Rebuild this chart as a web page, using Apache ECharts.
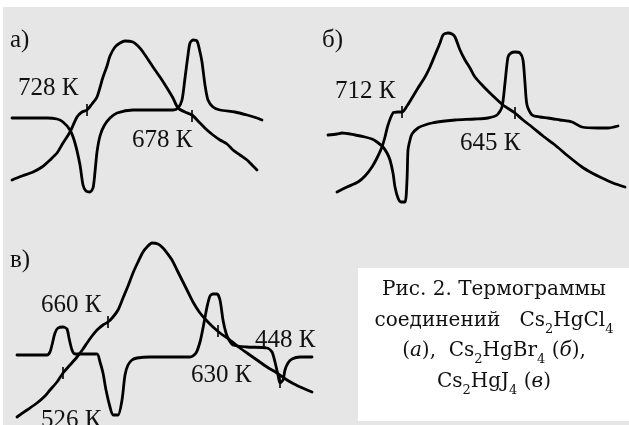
<!DOCTYPE html>
<html><head><meta charset="utf-8">
<script src="https://cdn.jsdelivr.net/npm/echarts@6/dist/echarts.min.js"></script>
<style>html,body{margin:0;padding:0;background:#fff}#c{width:629px;height:425px}</style>
</head><body><div id="c"></div>
<script>
// Panel а) Cs2HgCl4 — DTA curve and heating curve (panel-local units)
const aDTA = [[12,118],[47,118],[57,119],[63,122],[70,130],[75,143],[80,165],[83,185],[86,191],[90,192],[93,188],[95,172],[97,152],[100,136],[104,126],[110,118],[117,113],[133,110],[173,110],[178,108],[182,100],[185,78],[188,55],[190,43],[193,40],[197,41],[200,52],[202,62],[205,85],[208,100],[213,107],[220,110],[235,112],[247,115],[257,118],[262,120]];
const aHeat = [[12,180],[22,176],[33,172],[42,167],[50,160],[57,153],[63,143],[70,132],[77,117],[82,112],[87,110],[92,104],[97,97],[103,77],[107,66],[110,56],[115,47],[120,43],[125,41],[133,42],[138,46],[143,52],[153,67],[160,77],[167,88],[173,98],[178,108],[185,112],[192,115],[200,123],[207,130],[213,135],[220,140],[227,144],[233,150],[240,155],[247,160],[252,165],[257,170]];
const aTicks = [[87,110],[192,116]];

// Panel б) Cs2HgBr4
const bDTA = [[13,135],[22,134],[27,133],[40,135],[50,137],[57,139],[62,142],[68,147],[72,153],[75,160],[78,173],[80,187],[83,198],[86,202],[90,202],[92,180],[93,150],[95,140],[97,134],[103,128],[110,125],[117,123],[130,121],[140,120],[160,119],[173,118],[182,115],[187,107],[190,83],[193,57],[196,53],[200,52],[205,53],[208,60],[210,83],[212,105],[217,115],[225,117],[233,118],[245,120],[257,122],[267,127],[283,128],[293,128],[303,126]];
const bHeat = [[22,192],[32,187],[43,182],[50,176],[57,167],[62,158],[67,147],[70,137],[73,125],[78,113],[83,112],[87,112],[92,106],[97,98],[103,88],[110,77],[115,67],[120,55],[125,43],[128,35],[133,33],[137,34],[140,37],[145,50],[150,60],[155,68],[160,77],[168,86],[177,95],[188,105],[200,113],[208,120],[217,127],[228,136],[240,145],[253,156],[267,167],[277,173],[287,178],[298,183],[310,187]];
const bTicks = [[87,112],[200,113]];

// Panel в) Cs2HgJ4
const cDTA = [[17,145],[47,145],[50,142],[52,135],[55,123],[58,118],[63,117],[67,119],[69,128],[72,140],[75,144],[80,144],[97,144],[100,152],[103,163],[106,180],[110,197],[113,205],[118,205],[122,190],[125,165],[128,155],[132,150],[137,148],[150,147],[190,147],[196,143],[200,132],[203,118],[207,97],[210,86],[213,84],[217,84],[220,90],[223,110],[226,123],[229,130],[233,135],[247,137],[267,138],[272,142],[275,152],[278,165],[280,173],[283,170],[285,160],[288,153],[292,149],[300,147],[312,147]];
const cHeat = [[17,207],[27,200],[37,193],[45,186],[50,180],[57,172],[63,163],[70,155],[77,147],[83,139],[87,133],[92,126],[97,120],[103,115],[108,112],[113,107],[118,100],[123,88],[128,76],[133,63],[138,52],[143,42],[147,37],[152,33],[158,34],[163,38],[167,43],[172,50],[177,60],[182,70],[187,80],[193,92],[200,103],[207,111],[213,117],[220,123],[230,130],[240,138],[247,143],[257,150],[267,157],[277,163],[287,170],[298,176],[312,182]];
const cTicks = [[63,163],[108,112],[218,121],[280,172]];

// Labels
const panelLabels = ['а)', 'б)', 'в)'];
const tempLabels = ['728 К', '678 К', '712 К', '645 К', '660 К', '448 К', '630 К', '526 К'];

const chart = echarts.init(document.getElementById('c'), null, {renderer: 'canvas'});
const serif = '"Liberation Serif", "DejaVu Serif", serif';
const capFont = '"DejaVu Serif", "Liberation Serif", serif';
const lineStyle = {color: '#000', width: 2.8, join: 'round', cap: 'round'};

function lineSeries(data, idx) {
  return {type: 'line', xAxisIndex: idx, yAxisIndex: idx, data: data, showSymbol: false,
    symbol: 'none', smooth: 0.25, lineStyle: lineStyle, silent: true, animation: false, z: 3};
}
function tickSeries(data, idx) {
  return {type: 'scatter', xAxisIndex: idx, yAxisIndex: idx, data: data,
    symbol: 'rect', symbolSize: [2, 12], itemStyle: {color: '#000'}, silent: true, animation: false, z: 4};
}
function xA(idx, max) { return {type: 'value', gridIndex: idx, min: 0, max: max, show: false}; }
function yA(idx, max) { return {type: 'value', gridIndex: idx, min: 0, max: max, inverse: true, show: false}; }

function txt(s, x, y, size) {
  return {type: 'text', x: x, y: y, z: 10,
    style: {text: s, font: size + 'px ' + serif, fill: '#111', textAlign: 'left', textVerticalAlign: 'middle'}};
}

const capRich = {
  n: {fontSize: 20, fontFamily: capFont, lineHeight: 30.5, verticalAlign: 'middle', color: '#111'},
  s: {fontSize: 13, fontFamily: capFont, lineHeight: 17, verticalAlign: 'bottom', color: '#111'},
  i: {fontSize: 20, fontFamily: capFont, fontStyle: 'italic', lineHeight: 30.5, verticalAlign: 'middle', color: '#111'}
};
const capText = [
  '{n|Рис. 2. Термограммы}',
  '{n|соединений   Cs}{s|2}{n|HgCl}{s|4}',
  '{n|(}{i|а}{n|),  Cs}{s|2}{n|HgBr}{s|4}{n| (}{i|б}{n|),}',
  '{n|Cs}{s|2}{n|HgJ}{s|4}{n| (}{i|в}{n|)}'
].join('\n');

chart.setOption({
  backgroundColor: '#ffffff',
  animation: false,
  grid: [
    {left: 0, top: 0, width: 315, height: 220},
    {left: 315, top: 0, width: 314, height: 220},
    {left: 0, top: 210, width: 420, height: 215}
  ],
  xAxis: [xA(0, 315), xA(1, 314), xA(2, 420)],
  yAxis: [yA(0, 220), yA(1, 220), yA(2, 215)],
  series: [
    lineSeries(aDTA, 0), lineSeries(aHeat, 0), tickSeries(aTicks, 0),
    lineSeries(bDTA, 1), lineSeries(bHeat, 1), tickSeries(bTicks, 1),
    lineSeries(cDTA, 2), lineSeries(cHeat, 2), tickSeries(cTicks, 2)
  ],
  graphic: [
    {type: 'rect', x: 3, y: 7, z: -10, shape: {width: 626, height: 418}, style: {fill: '#e6e6e6'}},
    {type: 'rect', x: 358, y: 268, z: -9, shape: {width: 271, height: 153}, style: {fill: '#ffffff'}},
    txt(panelLabels[0], 10, 40, 25),
    txt(panelLabels[1], 322, 40, 25),
    txt(panelLabels[2], 10, 260, 25),
    txt(tempLabels[0], 18, 88, 25),
    txt(tempLabels[1], 132, 140, 25),
    txt(tempLabels[2], 335, 91, 25),
    txt(tempLabels[3], 460, 143, 25),
    txt(tempLabels[4], 41, 305, 25),
    txt(tempLabels[5], 255, 340, 25),
    txt(tempLabels[6], 191, 375, 25),
    txt(tempLabels[7], 41, 420, 25),
    {type: 'text', x: 494, y: 275, z: 10,
      style: {text: capText, rich: capRich, textAlign: 'center', textVerticalAlign: 'top', fill: '#111'}}
  ]
});
</script></body></html>
